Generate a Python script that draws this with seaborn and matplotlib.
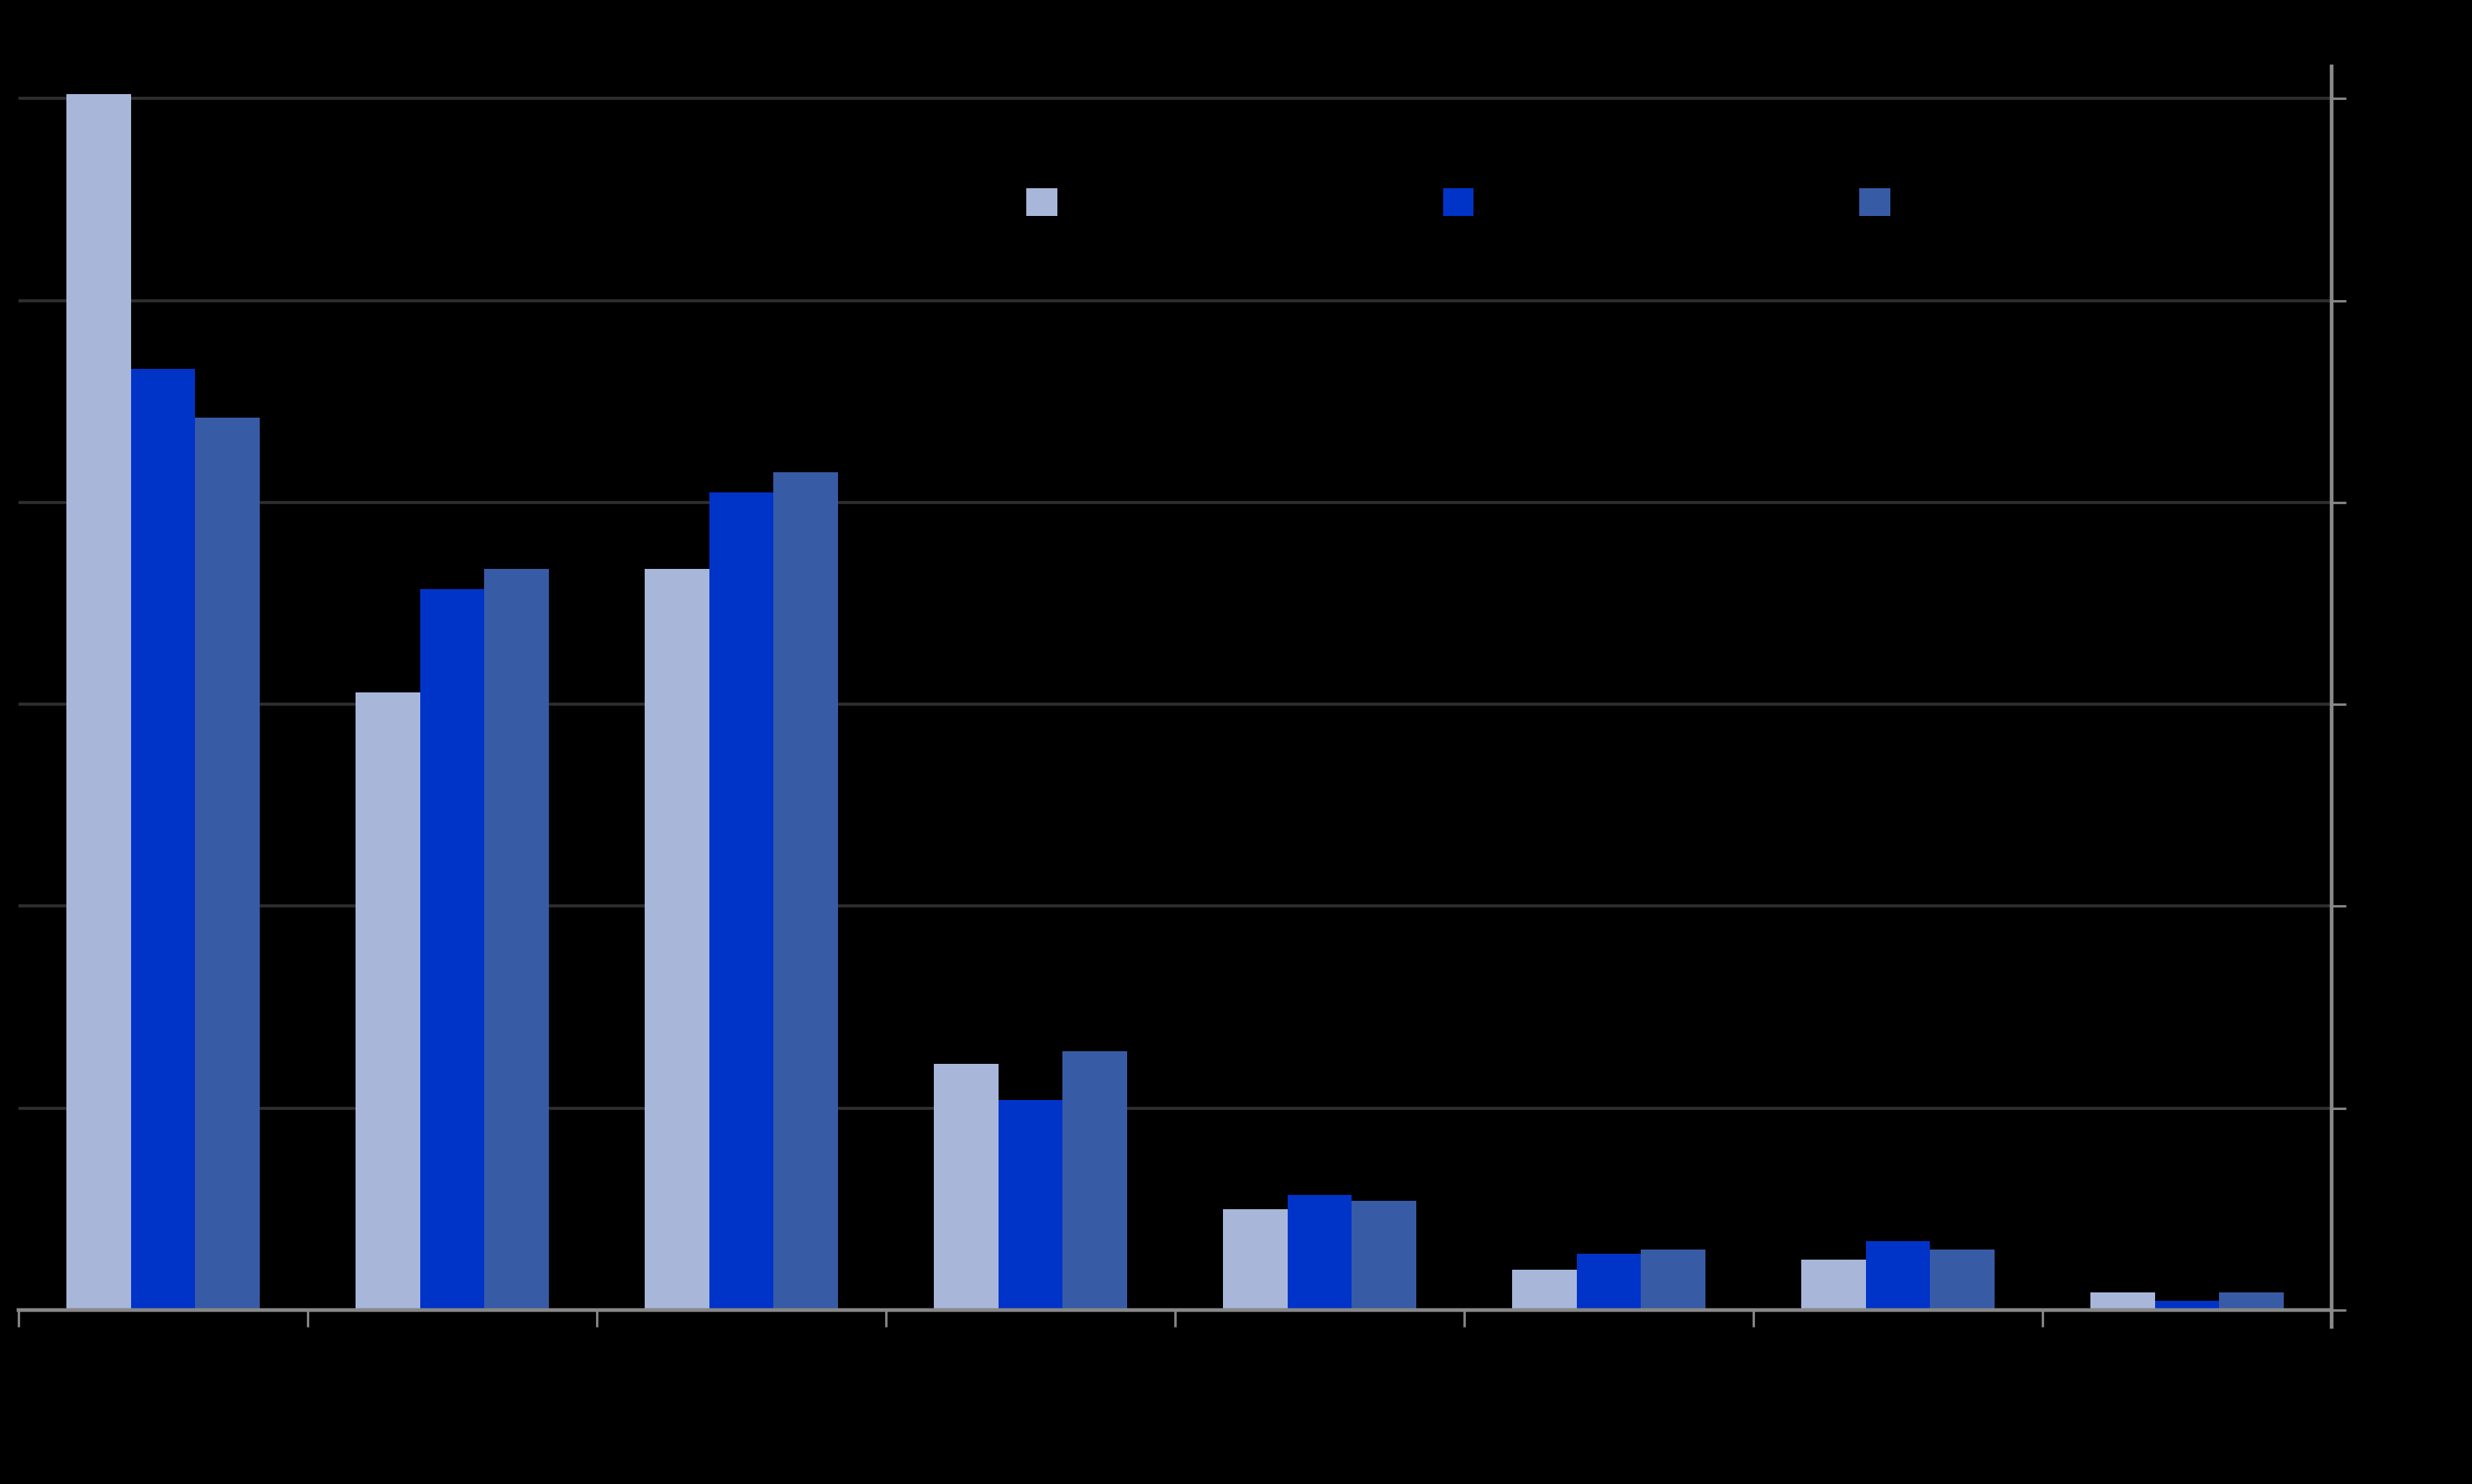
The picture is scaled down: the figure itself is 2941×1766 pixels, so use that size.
import numpy as np
import seaborn as sns
import pandas as pd
import matplotlib.pyplot as plt
from matplotlib.patches import Patch

# values (gridline step = 10)
groups = [0, 1, 2, 3, 4, 5, 6, 7]
series_names = ["s1", "s2", "s3"]
s1 = [60.2, 30.6, 36.7, 12.2, 5.0, 2.0, 2.5, 0.86]
s2 = [46.6, 35.7, 40.5, 10.4, 5.7, 2.8, 3.4, 0.47]
s3 = [44.2, 36.7, 41.5, 12.8, 5.4, 3.0, 3.0, 0.86]
yticks = [0, 10, 20, 30, 40, 50, 60]
colors = ["#A8B6DA", "#0033C8", "#385BA5"]

df = pd.DataFrame({
    "group": groups * 3,
    "value": s1 + s2 + s3,
    "series": [series_names[0]] * 8 + [series_names[1]] * 8 + [series_names[2]] * 8,
})

sns.set_style("white")
fig = plt.figure(figsize=(29.41, 17.66), dpi=100, facecolor="black")
ax = fig.add_axes([22 / 2941, 1 - 1579 / 1766, (2774 - 22) / 2941, (1579 - 79) / 1766])
ax.set_facecolor("black")

sns.barplot(data=df, x="group", y="value", hue="series", palette=colors,
            width=0.67, saturation=1, legend=False, ax=ax, linewidth=0)

ax.set_xlim(-0.5, 7.5)
ax.set_ylim(-0.83, 61.59)
ax.set_yticks(yticks)
ax.set_xticks(np.arange(-0.5, 8, 1))
ax.set_xticklabels([])
ax.set_yticklabels([])
ax.set_xlabel("")
ax.set_ylabel("")

ax.set_axisbelow(True)
ax.yaxis.grid(True, color="#2f2f2f", linewidth=2.6)
ax.xaxis.grid(False)

for side in ["left", "top"]:
    ax.spines[side].set_visible(False)
ax.spines["bottom"].set_position(("data", 0))
for side in ["bottom", "right"]:
    ax.spines[side].set_color("#888888")
    ax.spines[side].set_linewidth(3.2)

ax.yaxis.tick_right()
ax.tick_params(axis="y", direction="out", length=12, width=2, color="#888888", right=True, left=False)
ax.tick_params(axis="x", direction="out", length=14.4, width=2, color="#888888", bottom=True)

handles = [Patch(facecolor=c, edgecolor="none") for c in colors]
fig.legend(handles, ["", "", ""], loc="center", ncol=3, frameon=False,
           bbox_to_anchor=(1735 / 2941, 1 - 243 / 1766), bbox_transform=fig.transFigure,
           fontsize=26.6, handlelength=1, handleheight=1, handletextpad=0,
           columnspacing=12.4)

fig.savefig("out.png", dpi=100, facecolor="black")
